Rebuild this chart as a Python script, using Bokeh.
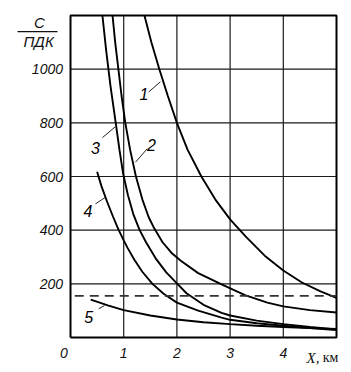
from bokeh.plotting import figure
from bokeh.models import Range1d
from bokeh.core.properties import value
from bokeh.embed import file_html
from bokeh.resources import INLINE

# ---- data ----
x_ticks = [1, 2, 3, 4]
y_ticks = [200, 400, 600, 800, 1000]
x_max = 5
y_max = 1200
pdk_level = 155  # dashed line

x1 = [1.39, 1.52, 1.67, 1.83, 2.0, 2.2, 2.46, 2.72, 3.0, 3.3, 3.65, 4.0, 4.35, 4.7, 5.0]
y1 = [1200, 1100, 1000, 900, 800, 700, 600, 515, 440, 375, 305, 250, 205, 172, 148]

x2 = [0.79, 0.84, 0.90, 0.96, 1.03, 1.12, 1.23, 1.35, 1.47, 1.56, 1.73, 1.90, 2.08, 2.40, 2.84, 3.28, 3.7, 4.0, 4.5, 5.0]
y2 = [1200, 1100, 1000, 900, 800, 700, 600, 515, 448, 412, 355, 315, 285, 240, 198, 158, 130, 116, 102, 93]

x3 = [0.60, 0.67, 0.75, 0.85, 0.92, 0.99, 1.08, 1.18, 1.30, 1.42, 1.60, 1.80, 2.0, 2.18, 2.5, 2.84, 3.0, 3.5, 4.0, 4.5, 5.0]
y3 = [1200, 1070, 940, 800, 700, 610, 530, 460, 400, 355, 295, 243, 202, 165, 122, 92, 82, 63, 50, 39, 30]

x4 = [0.50, 0.58, 0.69, 0.80, 0.90, 1.0, 1.07, 1.20, 1.35, 1.54, 1.75, 2.0, 2.4, 2.84, 3.0, 3.5, 4.0, 4.5, 5.0]
y4 = [618, 565, 505, 450, 403, 362, 335, 290, 245, 200, 163, 130, 100, 74, 66, 53, 44, 35, 28]

x5 = [0.38, 0.55, 0.7, 1.0, 1.5, 2.0, 2.5, 3.0, 3.5, 4.0, 4.5, 5.0]
y5 = [141, 130, 120, 102, 82, 67, 57, 50, 44, 39, 35, 32]

curve_names = ["1", "2", "3", "4", "5"]
name_x = [1.38, 1.52, 0.47, 0.33, 0.34]
name_y = [906, 719, 706, 473, 76]
lead_x0 = [1.47, 1.44, 0.60, 0.47, 0.53]
lead_y0 = [915, 703, 745, 498, 107]
lead_x1 = [1.69, 1.22, 0.84, 0.66, 0.64]
lead_y1 = [953, 653, 785, 523, 119]

x_tick_labels = [str(t) for t in x_ticks]
y_tick_labels = [str(t) for t in y_ticks]

# ---- figure: frame fills the canvas, chart box is [0,5]x[0,1200] ----
p = figure(width=351, height=372,
           x_range=Range1d(-1.316, 5.282), y_range=Range1d(-130.4, 1255.9),
           output_backend="svg", toolbar_location=None,
           x_axis_location=None, y_axis_location=None,
           min_border=0, min_border_left=0, min_border_right=0,
           min_border_top=0, min_border_bottom=0)
p.background_fill_color = "white"
p.border_fill_color = "white"
p.outline_line_color = None
p.grid.visible = False

# grid lines
p.multi_line([[t, t] for t in x_ticks], [[0, y_max] for _ in x_ticks],
             line_color="#1a1a1a", line_width=1.2)
p.multi_line([[0, x_max] for _ in y_ticks], [[t, t] for t in y_ticks],
             line_color="#1a1a1a", line_width=1.2)

# frame
p.line([0, x_max, x_max, 0, 0], [0, 0, y_max, y_max, 0], line_color="black", line_width=2)

# curves
for xs, ys in ((x1, y1), (x2, y2), (x3, y3), (x4, y4), (x5, y5)):
    p.line(xs, ys, line_color="black", line_width=1.9)

p.line([0.08, x_max], [pdk_level, pdk_level], line_color="#333333", line_width=1.6, line_dash="9 6")

# curve numbers with leaders
p.segment(lead_x0, lead_y0, lead_x1, lead_y1, line_color="#222222", line_width=1)
p.text(name_x, name_y, text=curve_names, text_align="center", text_baseline="middle",
       text_font_size="16px", text_font_style="italic", text_color="black",
       text_font=value("Liberation Sans"))

tick_style = dict(text_font=value("Liberation Sans"), text_font_style="italic",
                  text_font_size="14px", text_color="#111111", text_baseline="middle")

# tick labels
p.text(x_ticks, [-58] * len(x_ticks), text=x_tick_labels, text_align="center", **tick_style)
p.text([-0.141] * len(y_ticks), y_ticks, text=y_tick_labels, text_align="right", **tick_style)
p.text([-0.125], [-58], text=["0"], text_align="center", **tick_style)

# x axis name
p.text([4.436], [-75], text=["X,"], text_align="left", text_baseline="alphabetic",
       text_font=value("Liberation Serif"), text_font_style="italic",
       text_font_size="15px", text_color="#111111")
p.text([4.74], [-75], text=["км"], text_align="left", text_baseline="alphabetic",
       text_font=value("Liberation Serif"), text_font_style="normal",
       text_font_size="14px", text_color="#111111")

# y axis name: C / ПДК
p.text([-0.583], [1174], text=["C"], text_align="center", text_baseline="middle",
       text_font=value("Liberation Sans"), text_font_style="italic",
       text_font_size="15px", text_color="#111111")
p.line([-0.996, -0.244], [1140, 1140], line_color="#111111", line_width=1.3)
p.text([-0.60], [1103], text=["ПДК"], text_align="center", text_baseline="middle",
       text_font=value("Liberation Sans"), text_font_style="italic",
       text_font_size="15px", text_color="#111111")

open("out.html", "w").write(file_html(p, INLINE))
